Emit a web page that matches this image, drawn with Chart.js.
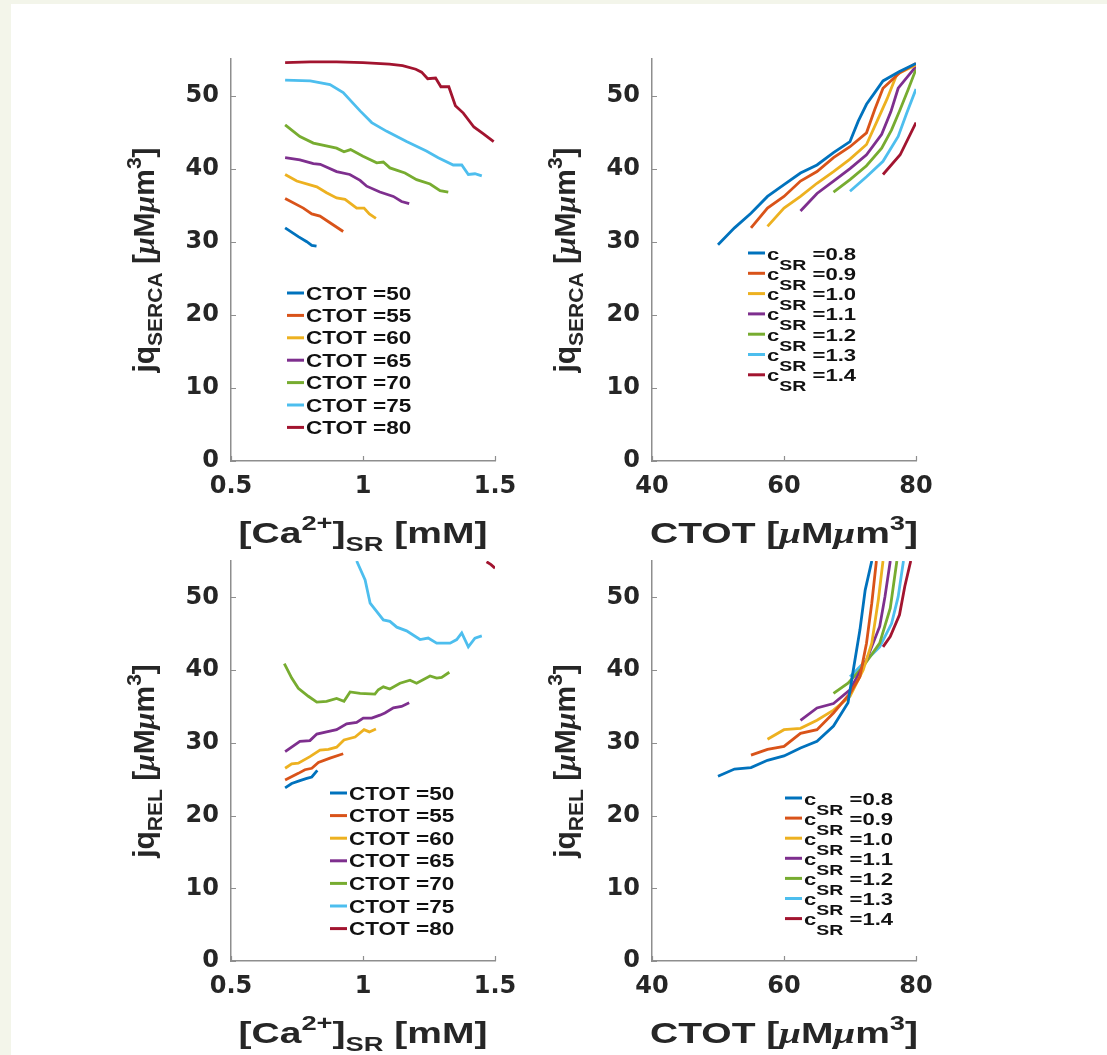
<!DOCTYPE html>
<html>
<head>
<meta charset="utf-8">
<script src="https://cdn.jsdelivr.net/npm/chart.js@4.4.1/dist/chart.umd.min.js"></script>
<style>
  html, body { margin: 0; padding: 0; }
  body { width: 1107px; height: 1055px; background: #f3f5ea; position: relative; overflow: hidden; }
  #sheet { position: absolute; left: 11px; top: 4px; right: 0; bottom: 0; background: #ffffff; }
  canvas { position: absolute; }
</style>
</head>
<body>
<div id="sheet"></div>
<canvas id="tl" width="530" height="555" style="left:0;top:0;width:530px;height:555px"></canvas>
<canvas id="tr" width="577" height="555" style="left:530px;top:0;width:577px;height:555px"></canvas>
<canvas id="bl" width="530" height="500" style="left:0;top:555px;width:530px;height:500px"></canvas>
<canvas id="br" width="577" height="500" style="left:530px;top:555px;width:577px;height:500px"></canvas>
<script>
// ---- levels, colours and ticks ----
const ctotLevels = ['50', '55', '60', '65', '70', '75', '80'];
const csrLevels = ['0.8', '0.9', '1.0', '1.1', '1.2', '1.3', '1.4'];
const lineColors = ['#0072BD', '#D95319', '#EDB120', '#7E2F8E', '#77AC30', '#4DBEEE', '#A2142F'];
const caTicks = [0.5, 1, 1.5];
const ctotTicks = [40, 60, 80];
const fluxTicks = [0, 10, 20, 30, 40, 50];

// ---- jqSERCA against [Ca2+]SR, one curve per CTOT ----
const sercaCa50 = [[0.705,31.9],[0.755,30.7],[0.787,30.0],[0.806,29.5],[0.824,29.4]];
const sercaCa55 = [[0.705,35.9],[0.774,34.6],[0.806,33.8],[0.837,33.5],[0.875,32.6],[0.925,31.4]];
const sercaCa60 = [[0.705,39.2],[0.749,38.3],[0.825,37.5],[0.862,36.7],[0.9,36.0],[0.932,35.8],[0.976,34.6],[1.004,34.6],[1.024,33.8],[1.049,33.2]];
const sercaCa65 = [[0.705,41.5],[0.761,41.2],[0.812,40.7],[0.838,40.6],[0.9,39.6],[0.95,39.2],[0.989,38.4],[1.014,37.6],[1.064,36.8],[1.115,36.2],[1.146,35.5],[1.175,35.2]];
const sercaCa70 = [[0.705,46.0],[0.761,44.4],[0.812,43.5],[0.9,42.8],[0.928,42.3],[0.953,42.6],[1.0,41.7],[1.052,40.8],[1.077,40.9],[1.102,40.1],[1.159,39.4],[1.203,38.5],[1.254,37.9],[1.292,37.0],[1.323,36.8]];
const sercaCa75 = [[0.705,52.1],[0.8,52.0],[0.875,51.5],[0.925,50.4],[0.989,47.9],[1.033,46.3],[1.09,45.1],[1.165,43.7],[1.24,42.4],[1.285,41.5],[1.342,40.5],[1.374,40.5],[1.399,39.2],[1.424,39.3],[1.45,39.0]];
const sercaCa80 = [[0.705,54.5],[0.8,54.6],[0.9,54.6],[1.0,54.5],[1.05,54.4],[1.1,54.3],[1.15,54.1],[1.2,53.6],[1.222,53.2],[1.245,52.3],[1.275,52.4],[1.295,51.2],[1.325,51.2],[1.35,48.6],[1.38,47.6],[1.42,45.7],[1.455,44.8],[1.495,43.7]];

// ---- jqSERCA against CTOT, one curve per cSR ----
const sercaCtot08 = [[50,29.6],[52.5,31.9],[55,33.9],[57.5,36.2],[60,37.8],[62.5,39.4],[65,40.5],[67.5,42.2],[70,43.7],[71.25,46.5],[72.5,48.8],[73.75,50.4],[75,52.0],[77.5,53.3],[80,54.4]];
const sercaCtot09 = [[55,31.9],[57.5,34.6],[60,36.2],[62.5,38.3],[65,39.6],[67.5,41.5],[70,43.0],[72.5,44.9],[73.75,48.1],[75,51.0],[77.5,53.1],[80,54.4]];
const sercaCtot10 = [[57.5,32.1],[60,34.6],[62.5,36.2],[65,38.0],[67.5,39.6],[70,41.3],[72.5,43.3],[74,46.3],[75.6,49.5],[77.1,52.9],[80,54.2]];
const sercaCtot11 = [[62.5,34.2],[65,36.6],[67.5,38.3],[70,40.0],[72.5,41.9],[74.8,44.7],[76.2,47.8],[77.3,51.0],[80,54.0]];
const sercaCtot12 = [[67.5,36.8],[70,38.5],[72.5,40.4],[74.8,42.8],[76.3,45.3],[77.6,48.1],[78.8,50.8],[80,53.6]];
const sercaCtot13 = [[70,36.9],[72.5,38.9],[75,41.0],[77.3,44.4],[78.6,47.6],[80,50.9]];
const sercaCtot14 = [[75,39.2],[77.6,41.9],[80,46.3]];

// ---- jqREL against [Ca2+]SR, one curve per CTOT ----
const relCa50 = [[0.705,23.8],[0.73,24.4],[0.761,24.8],[0.787,25.1],[0.806,25.3],[0.827,26.2]];
const relCa55 = [[0.705,24.9],[0.755,25.8],[0.78,26.3],[0.806,26.5],[0.831,27.3],[0.875,27.9],[0.925,28.5]];
const relCa60 = [[0.705,26.5],[0.73,27.1],[0.755,27.2],[0.799,28.1],[0.837,29.0],[0.869,29.1],[0.9,29.4],[0.928,30.4],[0.97,30.8],[1.004,31.8],[1.024,31.5],[1.049,31.9]];
const relCa65 = [[0.705,28.8],[0.761,30.2],[0.799,30.3],[0.825,31.2],[0.862,31.5],[0.9,31.8],[0.938,32.6],[0.976,32.8],[1.001,33.4],[1.033,33.4],[1.064,33.8],[1.083,34.1],[1.115,34.8],[1.146,35.0],[1.175,35.5]];
const relCa70 = [[0.702,40.9],[0.73,38.9],[0.755,37.5],[0.793,36.4],[0.825,35.6],[0.862,35.7],[0.9,36.1],[0.928,35.7],[0.951,37.0],[0.989,36.8],[1.045,36.7],[1.058,37.3],[1.077,37.7],[1.102,37.4],[1.14,38.2],[1.178,38.6],[1.203,38.2],[1.254,39.2],[1.279,38.9],[1.298,39.0],[1.327,39.7]];
const relCa75 = [[0.976,55.0],[1.008,52.4],[1.027,49.2],[1.077,46.9],[1.102,46.7],[1.128,45.9],[1.165,45.4],[1.216,44.2],[1.247,44.4],[1.279,43.7],[1.33,43.7],[1.355,44.2],[1.374,45.1],[1.399,43.2],[1.424,44.4],[1.45,44.7]];
const relCa80 = [[1.468,54.9],[1.485,54.5],[1.5,54.0]];

// ---- jqREL against CTOT, one curve per cSR ----
const relCtot08 = [[50,25.4],[52.5,26.4],[55,26.6],[57.5,27.6],[60,28.2],[62.5,29.3],[65,30.2],[67.5,32.3],[69.7,35.5],[70.5,40.0],[71.5,45.5],[72.3,51.0],[73.3,55.0]];
const relCtot09 = [[55,28.3],[57.5,29.1],[60,29.5],[62.5,31.3],[65,31.8],[67.5,34.1],[70,36.8],[71.5,39.1],[72.5,43.7],[73.3,49.2],[74,55.0]];
const relCtot10 = [[57.5,30.5],[60,31.8],[62.5,32.0],[65,33.1],[67.5,34.5],[70,36.4],[72,40.0],[73.3,43.7],[74.3,49.7],[75,55.0]];
const relCtot11 = [[62.5,33.1],[65,34.8],[67.5,35.4],[70,37.3],[72.5,41.4],[74.5,46.0],[75.3,50.1],[76.1,55.0]];
const relCtot12 = [[67.5,36.8],[69.7,38.2],[72,40.5],[74.5,43.7],[76.1,48.5],[77.1,55.0]];
const relCtot13 = [[70,39.1],[72.5,41.4],[74.5,43.2],[76.3,46.4],[77.3,50.1],[78.1,55.0]];
const relCtot14 = [[75,43.2],[76.1,44.6],[77.5,47.6],[78.3,51.5],[79.2,55.0]];

// ---- text helpers ----
const SANS = '"Liberation Sans", Arial, Helvetica, sans-serif';
const SERIF = '"Liberation Serif", "DejaVu Serif", serif';
const TEXT_COLOR = '#262626';
const AXIS_COLOR = '#8e8e8e';

function seg(t, size, dy, family, style) {
  return { t, font: (style || 'bold') + ' ' + size + 'px ' + (family || SANS), dy: dy || 0 };
}

// Draws a run of text pieces (sub/superscripts via dy) from a baseline point.
function drawRich(ctx, segs, x, y, align, sx, rot) {
  ctx.save();
  ctx.translate(x, y);
  if (rot) ctx.rotate(rot);
  ctx.scale(sx || 1, 1);
  ctx.textBaseline = 'alphabetic';
  ctx.textAlign = 'left';
  let w = 0;
  segs.forEach(s => { ctx.font = s.font; w += ctx.measureText(s.t).width; });
  let cx = align === 'center' ? -w / 2 : 0;
  segs.forEach(s => {
    ctx.font = s.font;
    ctx.fillText(s.t, cx, s.dy);
    cx += ctx.measureText(s.t).width;
  });
  ctx.restore();
}

const T = 30, S = 21;
const unitSegs = [seg(' [', T), seg('\u03bc', T, 0, SERIF, 'italic bold'), seg('M', T),
                  seg('\u03bc', T, 0, SERIF, 'italic bold'), seg('m', T), seg('3', S, -13), seg(']', T)];
const caTitle = [seg('[Ca', T), seg('2+', S, -13), seg(']', T), seg('SR', S, 8), seg(' [mM]', T)];
const ctotTitle = [seg('CTOT', T)].concat(unitSegs);
const sercaTitle = [seg('jq', T), seg('SERCA', S, 8)].concat(unitSegs);
const relTitle = [seg('jq', T), seg('REL', S, 8)].concat(unitSegs);

function ctotLegendText(v) { return [seg('CTOT =' + v, 18)]; }
function csrLegendText(v) { return [seg('c', 17), seg('SR', 15, 10), seg(' =' + v, 17)]; }

// Titles, legend and inward tick marks for one panel.
function panelDecor(spec) {
  return {
    id: 'panelDecor',
    afterDraw(chart) {
      const ctx = chart.ctx;
      const a = chart.chartArea;
      const xs = chart.scales.x, ys = chart.scales.y;
      // inward tick marks
      ctx.save();
      ctx.strokeStyle = AXIS_COLOR;
      ctx.lineWidth = 1.2;
      ctx.beginPath();
      ys.ticks.forEach(t => {
        const py = Math.round(ys.getPixelForValue(t.value)) + 0.5;
        ctx.moveTo(a.left, py); ctx.lineTo(a.left + 5, py);
      });
      xs.ticks.forEach(t => {
        const px = Math.round(xs.getPixelForValue(t.value)) + 0.5;
        ctx.moveTo(px, a.bottom); ctx.lineTo(px, a.bottom - 5);
      });
      ctx.stroke();
      ctx.restore();

      ctx.save();
      ctx.fillStyle = TEXT_COLOR;
      drawRich(ctx, spec.xTitle, (a.left + a.right) / 2, a.bottom + 82, 'center', 1.3);
      drawRich(ctx, spec.yTitle, a.left - 77, (a.top + a.bottom) / 2, 'center', 1, -Math.PI / 2);
      ctx.restore();

      // legend
      const lg = spec.legend;
      ctx.save();
      chart.data.datasets.forEach((ds, i) => {
        const y = a.top + lg.dy + i * lg.step;
        ctx.strokeStyle = ds.borderColor;
        ctx.lineWidth = 3;
        ctx.beginPath();
        ctx.moveTo(a.left + lg.dx, y);
        ctx.lineTo(a.left + lg.dx + 17, y);
        ctx.stroke();
        ctx.fillStyle = '#111111';
        drawRich(ctx, lg.text(lg.values[i]), a.left + lg.dx + 19, y + 6.5, 'left', lg.sx);
      });
      ctx.restore();
    }
  };
}

function makeDatasets(seriesList, levels, prefix) {
  return seriesList.map((pts, i) => ({
    label: prefix + levels[i],
    data: pts.map(p => ({ x: p[0], y: p[1] })),
    borderColor: lineColors[i],
    backgroundColor: lineColors[i],
    borderWidth: 2.8,
    pointRadius: 0,
    tension: 0,
    fill: false
  }));
}

function makePanel(id, datasets, xTickList, pad, yAxisWidth, xAxisHeight, spec) {
  const tickFont = { family: '"DejaVu Sans", sans-serif', size: 24, weight: 'bold' };
  const xMin = xTickList[0], xMax = xTickList[xTickList.length - 1];
  return new Chart(document.getElementById(id), {
    type: 'line',
    data: { datasets },
    options: {
      responsive: false,
      animation: false,
      events: [],
      layout: { padding: pad },
      plugins: { legend: { display: false }, tooltip: { enabled: false } },
      scales: {
        x: {
          type: 'linear', min: xMin, max: xMax,
          afterBuildTicks(s) { s.ticks = xTickList.map(v => ({ value: v })); },
          ticks: { color: TEXT_COLOR, font: tickFont, padding: 11, maxRotation: 0,
                   callback: v => String(v) },
          grid: { display: false, drawTicks: false },
          border: { display: true, color: AXIS_COLOR, width: 1.5 },
          afterFit(s) { s.height = xAxisHeight; s.paddingLeft = 0; s.paddingRight = 0; }
        },
        y: {
          type: 'linear', min: 0, max: 55,
          afterBuildTicks(s) { s.ticks = fluxTicks.map(v => ({ value: v })); },
          ticks: { color: TEXT_COLOR, font: tickFont, padding: 12, callback: v => String(v) },
          grid: { display: false, drawTicks: false },
          border: { display: true, color: AXIS_COLOR, width: 1.5 },
          afterFit(s) { s.width = yAxisWidth; s.paddingTop = 0; s.paddingBottom = 0; }
        }
      }
    },
    plugins: [panelDecor(spec)]
  });
}

makePanel('tl',
  makeDatasets([sercaCa50, sercaCa55, sercaCa60, sercaCa65, sercaCa70, sercaCa75, sercaCa80], ctotLevels, 'CTOT ='),
  caTicks, { left: 0, top: 59, right: 35, bottom: 0 }, 231, 94,
  { xTitle: caTitle, yTitle: sercaTitle,
    legend: { dx: 56, dy: 234, step: 22.4, sx: 1.25, values: ctotLevels, text: ctotLegendText } });

makePanel('tr',
  makeDatasets([sercaCtot08, sercaCtot09, sercaCtot10, sercaCtot11, sercaCtot12, sercaCtot13, sercaCtot14], csrLevels, 'cSR ='),
  ctotTicks, { left: 0, top: 59, right: 191, bottom: 0 }, 122, 94,
  { xTitle: ctotTitle, yTitle: sercaTitle,
    legend: { dx: 96, dy: 194, step: 20.3, sx: 1.3, values: csrLevels, text: csrLegendText } });

makePanel('bl',
  makeDatasets([relCa50, relCa55, relCa60, relCa65, relCa70, relCa75, relCa80], ctotLevels, 'CTOT ='),
  caTicks, { left: 0, top: 6, right: 35, bottom: 0 }, 231, 94,
  { xTitle: caTitle, yTitle: relTitle,
    legend: { dx: 99, dy: 232, step: 22.6, sx: 1.25, values: ctotLevels, text: ctotLegendText } });

makePanel('br',
  makeDatasets([relCtot08, relCtot09, relCtot10, relCtot11, relCtot12, relCtot13, relCtot14], csrLevels, 'cSR ='),
  ctotTicks, { left: 0, top: 6, right: 191, bottom: 0 }, 122, 94,
  { xTitle: ctotTitle, yTitle: relTitle,
    legend: { dx: 133, dy: 237, step: 20.1, sx: 1.3, values: csrLevels, text: csrLegendText } });
</script>
</body>
</html>
